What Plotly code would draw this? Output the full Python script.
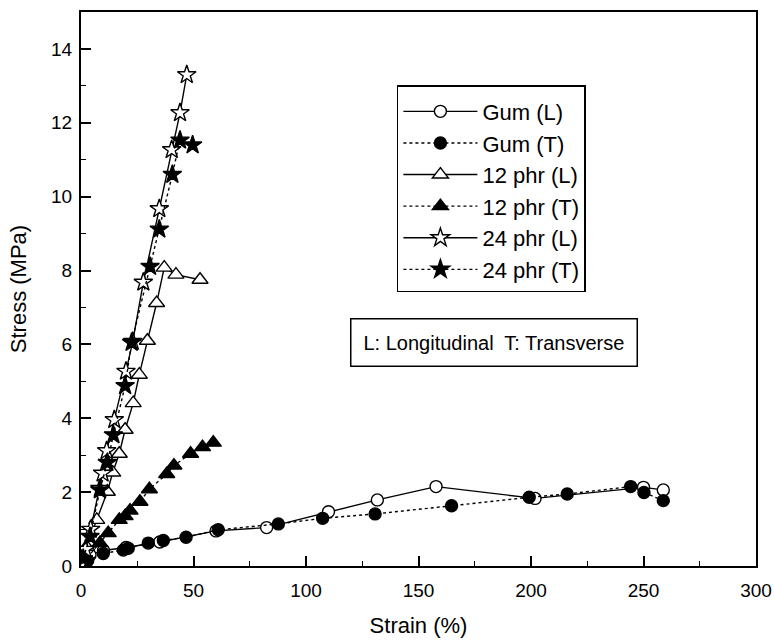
import plotly.graph_objects as go

# ---- data (strain %, stress MPa) ----
gum_L_x = [0, 4, 10, 20, 35, 60, 82.5, 110, 131.7, 157.8, 201.8, 250, 258.8]
gum_L_y = [0.05, 0.3, 0.42, 0.5, 0.65, 0.95, 1.04, 1.47, 1.79, 2.15, 1.83, 2.13, 2.06]

gum_T_x = [1, 3, 9.9, 18.8, 21, 29.9, 36.6, 46.7, 61, 87.7, 107.4, 130.7, 164.7, 199.2, 216.1, 244.3, 250.2, 258.8]
gum_T_y = [0.05, 0.15, 0.34, 0.43, 0.48, 0.62, 0.69, 0.78, 0.98, 1.14, 1.29, 1.41, 1.63, 1.86, 1.95, 2.15, 1.99, 1.77]

p12_L_x = [0, 2.5, 7, 11.7, 14.1, 17, 19.6, 23.2, 25.9, 29.5, 33.6, 37, 42.2, 52.9]
p12_L_y = [0.05, 0.52, 1.25, 2.01, 2.53, 3.04, 3.69, 4.41, 5.18, 6.1, 7.12, 8.08, 7.89, 7.75]

p12_T_x = [1, 8.4, 12.1, 17, 19.6, 21.8, 26.2, 30.4, 38.1, 41.3, 48.7, 54, 58.8]
p12_T_y = [0.1, 0.62, 0.89, 1.25, 1.35, 1.5, 1.74, 2.08, 2.49, 2.72, 3.04, 3.22, 3.34]

p24_L_x = [0, 2, 4.3, 8.4, 9.6, 11.4, 14.8, 20, 23, 27.7, 34.8, 40.3, 44, 47]
p24_L_y = [0.05, 0.45, 0.99, 2.1, 2.51, 3.12, 3.96, 5.27, 6.08, 7.68, 9.67, 11.27, 12.27, 13.3]

p24_T_x = [1, 4, 8.4, 11.7, 14.4, 19.6, 22.5, 30.7, 34.8, 40.6, 44, 49.6]
p24_T_y = [0.2, 0.8, 2.06, 2.8, 3.55, 4.88, 6.05, 8.11, 9.12, 10.6, 11.53, 11.4]

names = ["Gum (L)", "Gum (T)", "12 phr (L)", "12 phr (T)", "24 phr (L)", "24 phr (T)"]
x_ticks = [0, 50, 100, 150, 200, 250, 300]
y_ticks = [0, 2, 4, 6, 8, 10, 12, 14]

series = [
    (gum_L_x, gum_L_y, "circle", "white", "solid", 12),
    (gum_T_x, gum_T_y, "circle", "black", "dot", 12),
    (p12_L_x, p12_L_y, "triangle-up", "white", "solid", 14),
    (p12_T_x, p12_T_y, "triangle-up", "black", "dot", 14),
    (p24_L_x, p24_L_y, "star", "white", "solid", 14),
    (p24_T_x, p24_T_y, "star", "black", "dot", 14),
]

FONT = "Liberation Sans, Arial, Helvetica, sans-serif"

fig = go.Figure()
for name, (xs, ys, sym, fill, dash, sz) in zip(names, series):
    fig.add_trace(go.Scatter(
        x=xs, y=ys, name=name, mode="lines+markers",
        line=dict(color="black", width=1.4, dash=dash),
        marker=dict(symbol=sym, size=sz, color=fill,
                    line=dict(color="black", width=1.4)),
    ))

axis_common = dict(
    ticks="inside", ticklen=10, tickwidth=1.6, tickcolor="black",
    showline=True, linecolor="black", linewidth=2, mirror=True,
    showgrid=False, zeroline=False,
    tickfont=dict(family=FONT, size=19, color="black"),
)

fig.update_layout(
    template="none",
    width=774, height=640,
    margin=dict(l=81, r=18, t=12, b=74),
    paper_bgcolor="white", plot_bgcolor="white",
    font=dict(family=FONT, size=19, color="black"),
    showlegend=True,
    legend=dict(
        x=0.468, y=0.868, xanchor="left", yanchor="top",
        bordercolor="black", borderwidth=1.5, bgcolor="white",
        font=dict(family=FONT, size=22, color="black"),
        title=dict(text=" ", font=dict(family=FONT, size=3)),
        itemwidth=74, tracegroupgap=0,
    ),
    xaxis=dict(
        range=[0, 300], tickvals=x_ticks,
        minor=dict(dtick=25, ticks="inside", ticklen=5, tickcolor="black", tickwidth=1.3),
        title=dict(text="Strain (%)", font=dict(family=FONT, size=22, color="black"), standoff=18),
        ticklabelstandoff=6,
        **axis_common,
    ),
    yaxis=dict(
        range=[0, 15], tickvals=y_ticks,
        minor=dict(dtick=1, ticks="inside", ticklen=5, tickcolor="black", tickwidth=1.3),
        title=dict(text="Stress (MPa)", font=dict(family=FONT, size=22, color="black"), standoff=18),
        ticklabelstandoff=3,
        **axis_common,
    ),
    annotations=[dict(
        text="L: Longitudinal  T: Transverse",
        xref="paper", yref="paper", x=0.612, y=0.403,
        xanchor="center", yanchor="middle", showarrow=False,
        font=dict(family=FONT, size=20, color="black"),
        bordercolor="black", borderwidth=1.5,
        borderpad=12, bgcolor="white",
    )],
)

fig.write_html("out.html")
